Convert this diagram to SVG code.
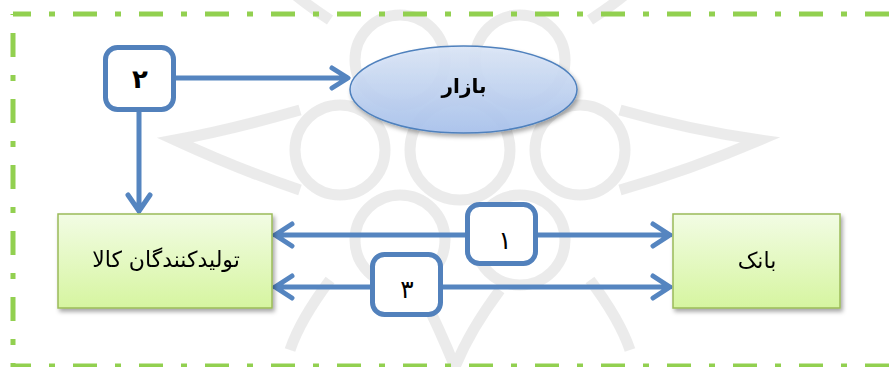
<svg xmlns="http://www.w3.org/2000/svg" width="895" height="367" viewBox="0 0 895 367">
<defs>
<style>
.frame{fill:none;stroke:#92D050;stroke-width:5;stroke-dasharray:24 18 6 18}
.conn{fill:none;stroke:#5585C0;stroke-width:5;stroke-linecap:round;stroke-linejoin:round}
.tag{fill:#fff;stroke:#5281BC;stroke-width:5}
.box{fill:url(#gGreen);stroke:#9BBB59;stroke-width:1.5}
.lbl{font-family:"DejaVu Sans",sans-serif;fill:#000;text-anchor:middle}
.wm{fill:none;stroke:#b8b8b8;stroke-width:11;opacity:0.28}
</style>
<linearGradient id="gGreen" x1="0" y1="0" x2="0" y2="1">
<stop offset="0" stop-color="#F2FCE4"/>
<stop offset="1" stop-color="#D6F5A0"/>
</linearGradient>
<linearGradient id="gBlue" x1="0" y1="0" x2="0" y2="1">
<stop offset="0" stop-color="#DCE7F8"/>
<stop offset="1" stop-color="#A9C3EE"/>
</linearGradient>
<filter id="sh" x="-10%" y="-10%" width="125%" height="135%">
<feDropShadow dx="2" dy="3" stdDeviation="2" flood-color="#000" flood-opacity="0.35"/>
</filter>
</defs>
<rect width="895" height="367" fill="#fff"/>
<g id="watermark">
<circle class="wm" cx="400" cy="60" r="45"/>
<circle class="wm" cx="520" cy="60" r="45"/>
<circle class="wm" cx="340" cy="150" r="45"/>
<circle class="wm" cx="580" cy="150" r="45"/>
<circle class="wm" cx="400" cy="240" r="45"/>
<circle class="wm" cx="520" cy="240" r="45"/>
<circle class="wm" cx="460" cy="150" r="50"/>
<path class="wm" d="M300 110 Q230 130 175 140 Q240 170 300 190"/>
<path class="wm" d="M620 110 Q690 130 760 140 Q690 170 620 190"/>
<path class="wm" d="M420 290 Q440 330 455 367 Q470 330 500 290"/>
<path class="wm" d="M330 20 Q300 0 290 -10 M590 20 Q620 0 630 -10"/>
<path class="wm" d="M330 280 Q300 320 290 350 M590 280 Q620 320 630 350"/>
</g>
<g id="frame">
<line class="frame" x1="13" y1="14" x2="895" y2="14" stroke-dashoffset="6"/>
<line class="frame" x1="13" y1="14" x2="13" y2="367" stroke-dashoffset="-19"/>
<line class="frame" x1="13" y1="366" x2="895" y2="366" stroke-dashoffset="6"/>
</g>
<g id="connectors">
<path class="conn" d="M176 78 H347 M332 68 L348 78 L332 88"/>
<path class="conn" d="M139 112 V211 M128 195 L139 211 L150 195"/>
<path class="conn" d="M275 235 H670 M292 224 L275 235 L292 246 M653 224 L670 235 L653 246"/>
<path class="conn" d="M275 287 H670 M292 276 L275 287 L292 298 M653 276 L670 287 L653 298"/>
</g>
<g id="tag2">
<rect class="tag" x="105.5" y="47.5" width="68" height="62" rx="12"/>
<text class="lbl" x="140" y="88" font-size="26" font-weight="bold">۲</text>
</g>
<g id="tag1">
<rect class="tag" x="467.5" y="204.5" width="68" height="59" rx="12"/>
<text class="lbl" x="505" y="249" font-size="25">۱</text>
</g>
<g id="tag3">
<rect class="tag" x="372.5" y="254.5" width="68" height="60" rx="12"/>
<text class="lbl" x="407" y="298" font-size="25">۳</text>
</g>
<g id="bazar" filter="url(#sh)">
<ellipse cx="463.5" cy="89.5" rx="113.5" ry="43.5" fill="url(#gBlue)" fill-opacity="0.9" stroke="#4F81BD" stroke-width="1.5"/>
<text class="lbl" x="464" y="93" font-size="20" font-weight="bold">بازار</text>
</g>
<g id="producers" filter="url(#sh)">
<rect class="box" x="58" y="214" width="214" height="94"/>
<text class="lbl" x="166" y="267" font-size="22">تولیدکنندگان کالا</text>
</g>
<g id="bank" filter="url(#sh)">
<rect class="box" x="673" y="214" width="167" height="94"/>
<text class="lbl" x="757" y="268" font-size="22">بانک</text>
</g>
</svg>
